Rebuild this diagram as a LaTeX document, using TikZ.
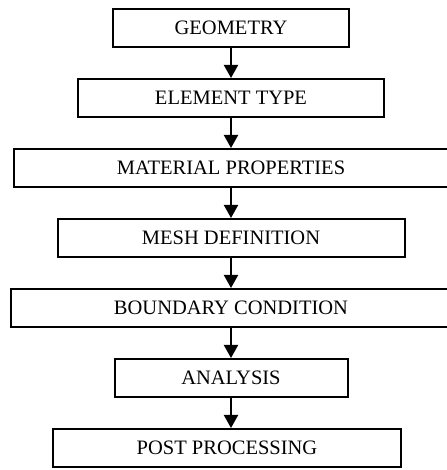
\documentclass[tikz,border=0pt]{standalone}
\usepackage{fontspec}
\setmainfont{Liberation Serif}
\usetikzlibrary{positioning}
\usetikzlibrary{arrows.meta}

\tikzset{
 stepbox/.style={draw,line width=2pt,minimum height=38pt,inner sep=0pt,
   font=\fontsize{20.5}{24}\selectfont},
 flow/.style={line width=2pt,-{Triangle[width=14pt,length=13pt]}}
}

\begin{document}
\begin{tikzpicture}[x=1pt,y=1pt,node distance=30pt]
 \useasboundingbox (0,0) rectangle (446,470);

 \node[stepbox,minimum width=236pt,name=geom] at (231,442) {GEOMETRY};
 \node[stepbox,minimum width=306pt,below=of geom,name=elem]     {ELEMENT TYPE};
 \node[stepbox,minimum width=434pt,below=of elem,name=mat]      {MATERIAL PROPERTIES};
 \node[stepbox,minimum width=347pt,below=of mat,name=mesh]      {MESH DEFINITION};
 \node[stepbox,minimum width=440pt,below=of mesh,name=bc]       {BOUNDARY CONDITION};
 \node[stepbox,minimum width=233pt,below=of bc,name=ana]        {ANALYSIS};
 \node[stepbox,minimum width=348pt,below=of ana,xshift=-4pt,name=post] {POST PROCESSING};

 \draw[flow] (geom) to (elem);
 \draw[flow] (elem) to (mat);
 \draw[flow] (mat)  to (mesh);
 \draw[flow] (mesh) to (bc);
 \draw[flow] (bc)   to (ana);
 \draw[flow] (ana)  to (post.north -| ana.south);

\end{tikzpicture}
\end{document}
